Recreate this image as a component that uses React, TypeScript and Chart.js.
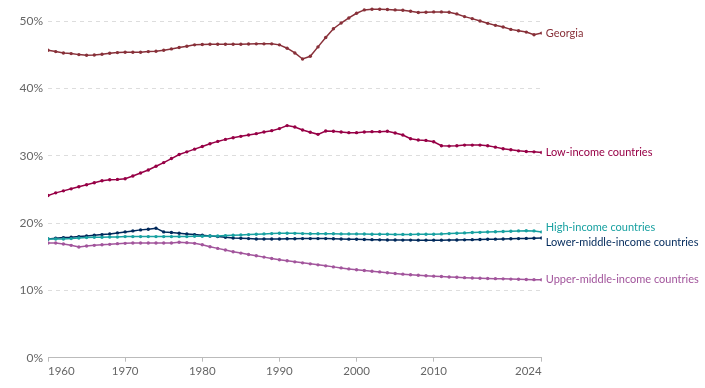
import React, { useEffect, useRef } from "react";
import { Chart, registerables } from "chart.js";

Chart.register(...registerables);

const years: number[] = Array.from({ length: 65 }, (_, i) => 1960 + i);

const xTickYears = [1960, 1970, 1980, 1990, 2000, 2010, 2024];
const yTickValues = [0, 10, 20, 30, 40, 50];

const georgia = [
  45.7, 45.5, 45.3, 45.2, 45.05, 44.95, 45.0, 45.1, 45.25, 45.35,
  45.4, 45.4, 45.4, 45.5, 45.55, 45.7, 45.9, 46.1, 46.3, 46.5,
  46.55, 46.6, 46.6, 46.6, 46.6, 46.6, 46.62, 46.65, 46.65, 46.65,
  46.5, 46.0, 45.3, 44.4, 44.8, 46.2, 47.6, 48.9, 49.75, 50.5,
  51.2, 51.7, 51.8, 51.8, 51.75, 51.7, 51.65, 51.5, 51.3, 51.35,
  51.4, 51.4, 51.35, 51.1, 50.7, 50.4, 50.05, 49.7, 49.4, 49.15,
  48.8, 48.6, 48.4, 48.0, 48.25,
];

const lowIncome = [
  24.1, 24.5, 24.8, 25.1, 25.4, 25.7, 26.0, 26.3, 26.45, 26.5,
  26.6, 27.0, 27.45, 27.9, 28.45, 29.0, 29.6, 30.2, 30.6, 31.0,
  31.4, 31.8, 32.15, 32.45, 32.7, 32.9, 33.1, 33.3, 33.55, 33.75,
  34.05, 34.5, 34.3, 33.85, 33.5, 33.2, 33.7, 33.65, 33.55, 33.45,
  33.45, 33.55, 33.6, 33.6, 33.65, 33.4, 33.1, 32.55, 32.35, 32.3,
  32.1, 31.5, 31.45, 31.5, 31.6, 31.6, 31.6, 31.5, 31.3, 31.05,
  30.9, 30.75, 30.65, 30.6, 30.5,
];

const highIncome = [
  17.65, 17.65, 17.65, 17.7, 17.8, 17.85, 17.9, 17.9, 17.95, 17.95,
  18.0, 18.0, 18.0, 18.0, 18.0, 18.0, 18.0, 18.0, 18.0, 18.05,
  18.05, 18.1, 18.1, 18.15, 18.2, 18.25, 18.3, 18.35, 18.4, 18.45,
  18.5, 18.5, 18.48, 18.45, 18.43, 18.43, 18.42, 18.42, 18.4, 18.4,
  18.4, 18.38, 18.36, 18.35, 18.34, 18.33, 18.33, 18.33, 18.34, 18.35,
  18.36, 18.4, 18.45, 18.5, 18.55, 18.6, 18.63, 18.68, 18.72, 18.76,
  18.8, 18.85, 18.88, 18.85, 18.7,
];

const lowerMiddleIncome = [
  17.65, 17.75, 17.85, 17.9, 18.0, 18.1, 18.2, 18.3, 18.4, 18.55,
  18.7, 18.85, 19.0, 19.1, 19.25, 18.7, 18.6, 18.5, 18.4, 18.3,
  18.2, 18.1, 18.0, 17.9, 17.8, 17.75, 17.7, 17.65, 17.65, 17.65,
  17.65, 17.67, 17.69, 17.7, 17.7, 17.7, 17.7, 17.68, 17.65, 17.62,
  17.6, 17.57, 17.55, 17.52, 17.5, 17.5, 17.48, 17.48, 17.47, 17.47,
  17.47, 17.47, 17.48, 17.5, 17.52, 17.55, 17.58, 17.6, 17.62, 17.65,
  17.68, 17.7, 17.73, 17.76, 17.79,
];

const upperMiddleIncome = [
  17.05, 17.05, 16.9, 16.7, 16.45, 16.6, 16.7, 16.8, 16.85, 16.95,
  17.0, 17.05, 17.05, 17.05, 17.05, 17.05, 17.05, 17.15, 17.1, 17.0,
  16.8, 16.5, 16.25, 16.0, 15.75, 15.55, 15.35, 15.15, 14.95, 14.75,
  14.55, 14.4, 14.25, 14.1, 13.95, 13.8, 13.65, 13.5, 13.35, 13.2,
  13.08, 12.97, 12.86, 12.75, 12.63, 12.52, 12.42, 12.33, 12.26, 12.19,
  12.12, 12.06, 12.0, 11.95, 11.9, 11.85, 11.82, 11.78, 11.75, 11.72,
  11.68, 11.65, 11.62, 11.6, 11.58,
];

const seriesNames = [
  "Georgia",
  "Low-income countries",
  "High-income countries",
  "Lower-middle-income countries",
  "Upper-middle-income countries",
];
const seriesColors = ["#883039", "#970046", "#18a1a1", "#00295b", "#a2559c"];
const seriesValues = [georgia, lowIncome, highIncome, lowerMiddleIncome, upperMiddleIncome];

const FONT = "Lato, 'Noto Sans', sans-serif";

const endLabels = {
  id: "endLabels",
  afterDatasetsDraw(chart: any) {
    const { ctx, scales } = chart;
    const yScale = scales.y;
    const xScale = scales.x;
    const items = chart.data.datasets.map((ds: any, i: number) => {
      const last = ds.data[ds.data.length - 1];
      return {
        text: ds.label,
        color: seriesColors[i],
        x: xScale.getPixelForValue(last.x),
        y: yScale.getPixelForValue(last.y),
      };
    });
    items.sort((a: any, b: any) => a.y - b.y);
    const gap = 15.6;
    for (let k = 0; k < 60; k++) {
      for (let i = 1; i < items.length; i++) {
        const d = items[i].y - items[i - 1].y;
        if (d < gap) {
          const o = (gap - d) / 2;
          items[i - 1].y -= o;
          items[i].y += o;
        }
      }
    }
    ctx.save();
    ctx.font = `11px ${FONT}`;
    ctx.textBaseline = "middle";
    ctx.textAlign = "left";
    for (const it of items) {
      ctx.fillStyle = it.color;
      ctx.fillText(it.text, it.x + 4, it.y);
    }
    ctx.restore();
  },
};

export default function App() {
  const ref = useRef<HTMLCanvasElement | null>(null);

  useEffect(() => {
    document.body.style.margin = "0";
    const canvas = ref.current;
    if (!canvas) return;
    const chart = new Chart(canvas, {
      type: "line",
      data: {
        datasets: seriesNames.map((name, i) => ({
          label: name,
          data: years.map((y, j) => ({ x: y, y: seriesValues[i][j] })),
          borderColor: seriesColors[i],
          backgroundColor: seriesColors[i],
          borderWidth: 1.5,
          pointRadius: 1.7,
          pointBorderWidth: 0,
          pointBackgroundColor: seriesColors[i],
          tension: 0,
        })),
      },
      options: {
        animation: false,
        responsive: false,
        maintainAspectRatio: false,
        layout: { padding: { left: 0, right: 163.3, top: 4.5, bottom: 0 } },
        plugins: {
          legend: { display: false },
          tooltip: { enabled: false },
        },
        scales: {
          x: {
            type: "linear",
            min: 1960,
            max: 2024,
            afterBuildTicks: (scale: any) => {
              scale.ticks = xTickYears.map((v) => ({ value: v }));
            },
            afterFit: (scale: any) => {
              scale.height = 30.3;
              scale.paddingLeft = 0;
              scale.paddingRight = 0;
            },
            ticks: {
              align: "inner",
              autoSkip: false,
              maxRotation: 0,
              color: "#666",
              font: { family: FONT, size: 11.5 },
              padding: 3,
              callback: (v: any) => String(v),
            },
            grid: {
              drawOnChartArea: false,
              drawTicks: true,
              tickLength: 4,
              color: "#bbb",
            },
            border: { display: true, color: "#bbb", width: 1 },
          },
          y: {
            type: "linear",
            min: 0,
            max: 52.5,
            afterBuildTicks: (scale: any) => {
              scale.ticks = yTickValues.map((v) => ({ value: v }));
            },
            afterFit: (scale: any) => {
              scale.width = 48;
              scale.paddingTop = 0;
              scale.paddingBottom = 0;
            },
            ticks: {
              color: "#666",
              font: { family: FONT, size: 12 },
              padding: 5,
              callback: (v: any) => `${v}%`,
            },
            grid: {
              drawTicks: false,
              color: (c: any) => (c.tick && c.tick.value === 0 ? "rgba(0,0,0,0)" : "#dddddd"),
              lineWidth: 1,
            },
            border: { display: false, dash: [4, 4] },
          },
        },
      },
      plugins: [endLabels],
    });
    return () => chart.destroy();
  }, []);

  return (
    <div style={{ width: 705, height: 388 }}>
      <canvas ref={ref} width={705} height={388} style={{ display: "block" }} />
    </div>
  );
}
